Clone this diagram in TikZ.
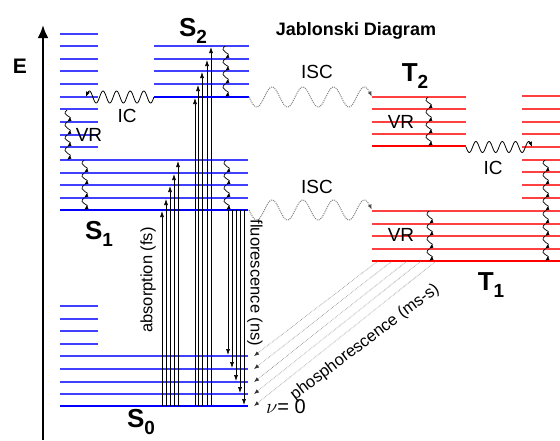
\documentclass[tikz,border=0pt]{standalone}
\usepackage{fontspec}
\setmainfont{Liberation Sans}
\usetikzlibrary{arrows, arrows.meta}

% Zustandsbezeichnung mit Index
\newcommand{\Zustand}[2]{{\fontsize{26}{26}\selectfont\bfseries #1\raisebox{-0.3em}{\fontsize{19}{19}\selectfont #2}}}
% kleine Welle fuer VR
\newcommand{\VRwelle}[3]{\draw[vr] (#1,#2) .. controls ({#1-7},{#2+0.45*(#3-#2)}) and ({#1+7},{#3-0.45*(#3-#2)}) .. (#1,#3);}

\begin{document}
\begin{tikzpicture}[x=1pt, y=-1pt,
				>={Latex[length=6pt,width=4pt]},   %Voreinstellung für Pfeilspitzen
				sniveau/.style={draw=blue!75!white, line width=1.2pt},
				sgrund/.style={draw=blue, line width=2.6pt},
				tniveau/.style={draw=red!75!white, line width=1.2pt},
				tgrund/.style={draw=red, line width=2.6pt},
				uebergang/.style={->, line width=0.6pt},
				vr/.style={-{Latex[length=4.5pt,width=3.5pt]}, line width=0.7pt},
				ic/.style={-{Latex[length=5pt,width=4pt]}, line width=0.8pt},
				isc/.style={-{Latex[length=5pt,width=4pt,color=black!70]}, gray, densely dotted, line width=1pt},
				phos/.style={-{Latex[length=5pt,width=4pt,color=black!80]}, gray, densely dotted, line width=0.6pt},
				beschr/.style={font=\fontsize{19}{19}\selectfont},
				prozess/.style={font=\fontsize{16.5}{16.5}\selectfont}]
				\useasboundingbox (0,0) rectangle (560,440);
				% Energieachse
				\draw[line width=2.5pt, -{Latex[length=13pt,width=11pt]}] (43,440) -- (43,25);
				\node[font=\fontsize{21}{21}\selectfont\bfseries] (E) at (20,66) {E};
				% Titel
				\node[font=\fontsize{18}{18}\selectfont\bfseries, anchor=base] (titel) at (356,35) {Jablonski Diagram};
				% Singulett-Niveaus
				\foreach \y in {34,46,59,71,84,97,109,122,135,147,306,319,331,344} \draw[sniveau] (60,\y) -- (98,\y);
				\foreach \y in {46,59,71,84} \draw[sniveau] (154,\y) -- (249,\y);
				\draw[sgrund] (154,97) -- (249,97);
				\foreach \y in {160,173,185,198,356,369,382,394} \draw[sniveau] (60,\y) -- (248,\y);
				\draw[sgrund] (60,210) -- (248,210);
				\draw[sgrund] (60,406) -- (248,406);
				% Triplett-Niveaus
				\foreach \y in {97,109,122,134} \draw[tniveau] (372,\y) -- (466,\y);
				\draw[tgrund] (372,146) -- (466,146);
				\foreach \y in {96,109,122,134,147,160,172,185,198} \draw[tniveau] (522,\y) -- (560,\y);
				\foreach \y in {211,224,236,249} \draw[tniveau] (372,\y) -- (560,\y);
				\draw[tgrund] (372,261) -- (560,261);
				% Zustaende beschriften
				\node (S2) at (193,31) {\Zustand{S}{2}};
				\node (S1) at (99,234) {\Zustand{S}{1}};
				\node (S0) at (141,422) {\Zustand{S}{0}};
				\node (T2) at (415,76) {\Zustand{T}{2}};
				\node (T1) at (491,285) {\Zustand{T}{1}};
				% Absorption
				\foreach \x/\y in {162/210,166/198,170/185,174/173,178/160} \draw[uebergang] (\x,406) -- (\x,\y+1);
				\foreach \x/\y in {195/97,198/84,202/71,207/59,211/46} \draw[uebergang] (\x,406) -- (\x,\y+1);
				\node[prozess, rotate=90] (absorption) at (148,280) {absorption (fs)};
				% Fluoreszenz
				\foreach \x/\y in {228/356,232/369,236/382,240/394,244/406} \draw[uebergang] (\x,210) -- (\x,\y-1);
				\node[prozess, rotate=-90] (fluoreszenz) at (255,283) {fluorescence (ns)};
				% Phosphoreszenz
				\foreach \xs/\ye in {378/356,392/369,407/382,421/394,436/406} \draw[phos] (\xs,261) -- (254,\ye);
				\node[prozess, rotate=37] (phosphoreszenz) at (365,342) {phosphorescence (ms-s)};
				\node[beschr, font=\fontsize{20}{20}\selectfont] (nu) at (286,407) {$\nu$= 0};
				% Schwingungsrelaxation
				\foreach \ya/\yb in {110/122,122/135,135/147,147/160} \VRwelle{67}{\ya}{\yb};
				\foreach \ya/\yb in {160/173,173/185,185/198,198/210} \VRwelle{84}{\ya}{\yb};
				\foreach \ya/\yb in {46/59,59/71,71/84,84/97} \VRwelle{225}{\ya}{\yb};
				\foreach \ya/\yb in {160/173,173/185,185/198,198/210} \VRwelle{226}{\ya}{\yb};
				\foreach \ya/\yb in {97/109,109/122,122/134,134/146} \VRwelle{428}{\ya}{\yb};
				\foreach \ya/\yb in {211/224,224/236,236/249,249/261} \VRwelle{429}{\ya}{\yb};
				\foreach \ya/\yb in {160/172,172/185,185/198,198/211,211/224,224/236,236/249,249/261} \VRwelle{545}{\ya}{\yb};
				\node[beschr] (vr1) at (89,135) {VR};
				\node[beschr] (vr2) at (401,122) {VR};
				\node[beschr] (vr3) at (401,235) {VR};
				% Innere Umwandlung
				\draw[ic] plot[domain=0:1, samples=120] ({154-68*\x}, {97+6*sin(5*360*\x)});
				\draw[ic] plot[domain=0:1, samples=120] ({466+66*\x}, {147+5.5*sin(5*360*\x)});
				\node[beschr] (ic1) at (127,116) {IC};
				\node[beschr] (ic2) at (493,168) {IC};
				% Intersystem Crossing
				\draw[isc] plot[domain=0:1, samples=150] ({249+123*\x}, {97+10*sin(4*360*\x)});
				\draw[isc] plot[domain=0:1, samples=150] ({249+123*\x}, {210+10*sin(4*360*\x)});
				\node[beschr] (isc1) at (317,72) {ISC};
				\node[beschr] (isc2) at (317,187) {ISC};
			\end{tikzpicture}
\end{document}
